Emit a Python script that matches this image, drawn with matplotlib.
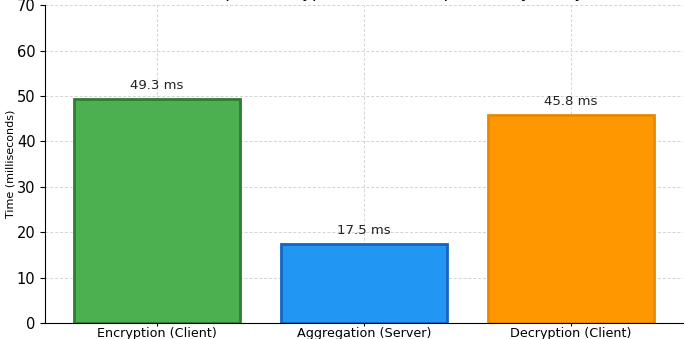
"""
Bar chart: computation time per operation (client / server)
"""
import matplotlib
matplotlib.use('Agg')
import matplotlib.pyplot as plt

operations = ['Encryption (Client)', 'Aggregation (Server)', 'Decryption (Client)']
times_ms = [49.3, 17.5, 45.8]
bar_colors = ['#4caf50', '#2196f3', '#ff9800']
edge_colors = ['#2e7d32', '#1565c0', '#e68a00']

fig = plt.figure(figsize=(6.85, 3.39), dpi=100)
ax = fig.add_axes([0.066, 0.047, 0.931, 0.938])

bars = ax.bar(operations, times_ms, color=bar_colors, edgecolor=edge_colors,
              linewidth=2, width=0.8, zorder=2)

# value labels above bars
for bar, t in zip(bars, times_ms):
    ax.text(bar.get_x() + bar.get_width() / 2, t + 1.5, f'{t} ms',
            ha='center', va='bottom', fontsize=9.5, color='#222')

ax.set_ylim(0, 70)
ax.set_ylabel('Time (milliseconds)', fontsize=8, labelpad=1)
ax.set_title('Homomorphic Encryption Time Comparison by Entity', fontsize=12, pad=5.5)
ax.tick_params(axis='x', labelsize=9.2, length=2, pad=0.5)
ax.tick_params(axis='y', labelsize=10.5)
ax.grid(True, linestyle=(0, (3, 2)), color='#c8c8c8', alpha=0.8, linewidth=0.7, zorder=3)
ax.spines['top'].set_visible(False)
ax.spines['right'].set_visible(False)

fig.savefig('out.png', dpi=100)
plt.close(fig)
